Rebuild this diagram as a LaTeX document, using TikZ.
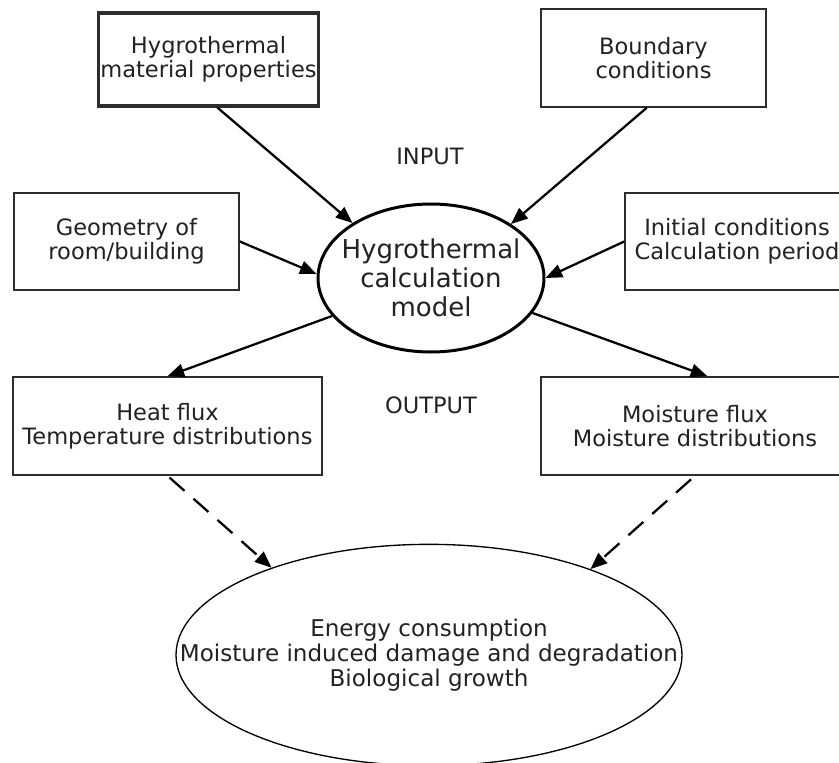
\documentclass[tikz,border=0pt]{standalone}
\usepackage{fontspec}
\setmainfont{DejaVu Sans}
\usetikzlibrary{shapes.geometric,arrows.meta,calc}
\definecolor{txt}{RGB}{34,34,34}
\definecolor{brd}{RGB}{45,45,45}
\tikzset{
  boxnode/.style={draw=brd, line width=1.2pt, rectangle, inner sep=0pt, align=center, text=txt,
    font=\fontsize{16.9}{18}\selectfont},
  conn/.style={line width=1.7pt, draw=black, -{Triangle[length=12.5pt,width=10pt]}},
  dconn/.style={conn, dash pattern=on 15pt off 9pt},
  lbl/.style={text=txt, font=\fontsize{16.9}{18}\selectfont, inner sep=0pt},
  ovalnode/.style={ellipse, draw=black, inner sep=0pt}
}
\begin{document}
\begin{tikzpicture}[x=0.75pt,y=-0.75pt]
\clip (0,0) rectangle (839,763);
\fill[white] (0,0) rectangle (839,763);

\node[boxnode, line width=2.4pt, minimum width=165pt, minimum height=69.75pt] (b1) at (208.5,59.5) {Hygrothermal\\material properties};
\node[boxnode, minimum width=168.75pt, minimum height=73.5pt] (b2) at (653.5,58) {Boundary\\conditions};
\node[boxnode, minimum width=168.75pt, minimum height=72.75pt] (geo) at (126.5,241.5) {Geometry of\\room/building};
\node[boxnode, minimum width=168pt, minimum height=72.75pt] (ini) at (737,241.5) {Initial conditions\\Calculation period};
\node[boxnode, minimum width=231.75pt, minimum height=73.5pt] (hf) at (167.5,426) {Heat flux\\Temperature distributions};
\node[boxnode, minimum width=231pt, minimum height=73.5pt] (mf) at (695,426) {Moisture flux\\Moisture distributions};

\node[ovalnode, line width=2.25pt, minimum width=169.5pt, minimum height=111pt] (model) at (431,278) {};
\node[align=center, text=txt, inner sep=0pt, font=\fontsize{19.5}{21.6}\selectfont] (modeltxt) at (model.center) {Hygrothermal\\calculation\\model};

\node[ovalnode, line width=1pt, minimum width=379.5pt, minimum height=166pt] (out) at (429,655) {};
\node[align=center, text=txt, inner sep=0pt, font=\fontsize{17.3}{18.75}\selectfont] (outtxt) at (out.center) {Energy consumption\\Moisture induced damage and degradation\\Biological growth};

\node[lbl] (inp) at (430,156) {INPUT};
\node[lbl] (outp) at (431,405) {OUTPUT};

\draw[conn] ($(b1.south west)!0.54!(b1.south east)$) -- (model.145);
\draw[conn] ($(b2.south west)!0.47!(b2.south east)$) -- (model.34);
\draw[conn] (geo.east) -- (model.178);
\draw[conn] (ini.west) -- (model.0);
\draw[conn] (model.201) -- (hf.north);
\draw[conn] (model.341) -- ($(mf.north west)!0.54!(mf.north east)$);
\draw[dconn, shorten <=2pt] (hf.south) -- (out.151);
\draw[dconn, shorten <=4pt] (mf.south) -- (out.28);
\end{tikzpicture}
\end{document}
